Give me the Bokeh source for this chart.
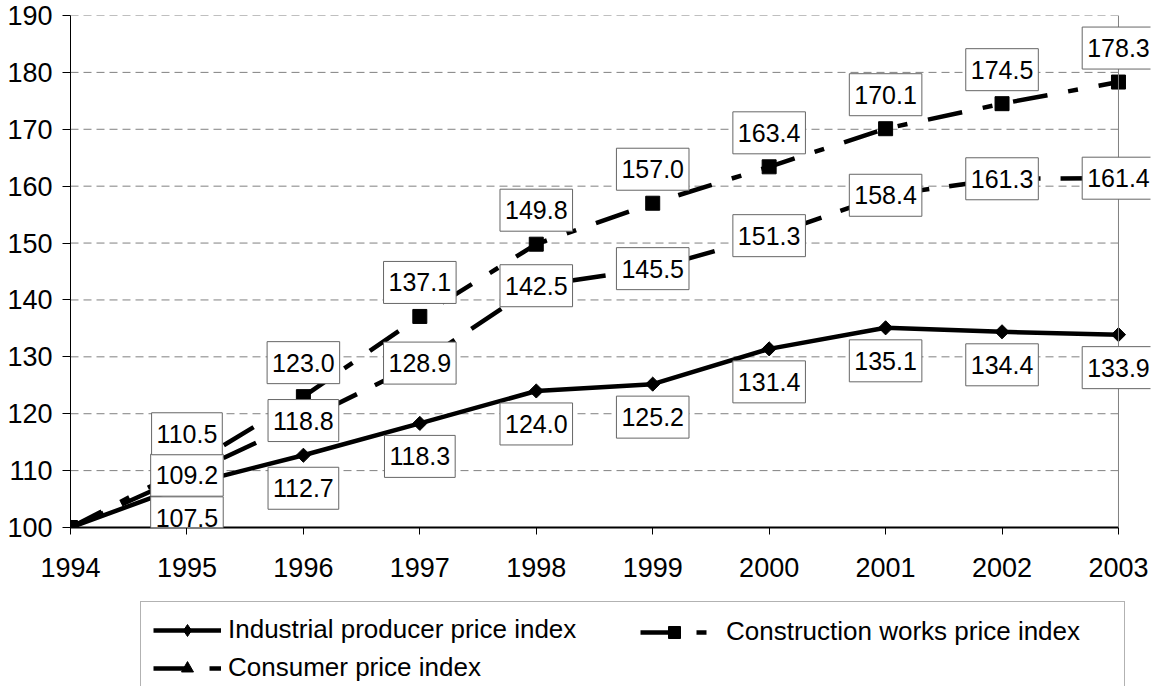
import numpy as np
from bokeh.plotting import figure
from bokeh.layouts import column
from bokeh.models import Label, Legend, LegendItem, Span, FixedTicker, Range1d
from bokeh.embed import file_html
from bokeh.resources import INLINE

# ---- data ----
years = [1994, 1995, 1996, 1997, 1998, 1999, 2000, 2001, 2002, 2003]
industrial = [100.0, 107.5, 112.7, 118.3, 124.0, 125.2, 131.4, 135.1, 134.4, 133.9]
construction = [100.0, 110.5, 123.0, 137.1, 149.8, 157.0, 163.4, 170.1, 174.5, 178.3]
consumer = [100.0, 109.2, 118.8, 128.9, 142.5, 145.5, 151.3, 158.4, 161.3, 161.4]
y_ticks = [100, 110, 120, 130, 140, 150, 160, 170, 180, 190]
series_names = ["Industrial producer price index",
                "Construction works price index",
                "Consumer price index"]

FONT = "Liberation Sans"
X_PAD = 0.275  # room to the right of the last year for the labels
LW = 4.5

p = figure(width=1152, height=600, output_backend="svg", toolbar_location=None,
           x_range=Range1d(years[0], years[-1] + X_PAD),
           y_range=Range1d(y_ticks[0], y_ticks[-1]),
           min_border_left=70, min_border_right=2,
           min_border_top=15, min_border_bottom=73)
p.outline_line_color = None
p.background_fill_color = "white"
p.border_fill_color = "white"
p.grid.visible = False

# axes
p.xaxis.ticker = FixedTicker(ticks=years)
p.yaxis.ticker = FixedTicker(ticks=y_ticks)
p.xaxis.bounds = (years[0], years[-1])
for ax in (p.xaxis, p.yaxis):
    ax.axis_line_color = "black"
    ax.major_tick_line_color = "black"
    ax.minor_tick_line_color = None
    ax.major_tick_in = 0
    ax.major_label_text_font = FONT
    ax.major_label_text_font_size = "27px"
    ax.major_label_text_color = "black"
p.xaxis.axis_line_width = 2
p.xaxis.major_tick_out = 7
p.xaxis.major_label_standoff = 23
p.yaxis.axis_line_width = 1
p.yaxis.major_tick_out = 8
p.yaxis.major_label_standoff = 10

# horizontal grid lines, limited to the plotted years
p.segment(x0=years[0], y0=y_ticks[1:], x1=years[-1], y1=y_ticks[1:],
          line_color="#808080", line_width=1, line_dash="8 5")
# right border line at last year
p.add_layout(Span(location=years[-1], dimension="height",
                  line_color="#808080", line_width=1))

# series
p.line(years, industrial, line_color="black", line_width=LW)
p.scatter(years, industrial, marker="square", angle=np.pi / 4, size=10, color="black")
p.line(years, consumer, line_color="black", line_width=LW, line_dash="36 20")
p.scatter(years, consumer, marker="triangle", size=14, color="black")
p.line(years, construction, line_color="black", line_width=LW, line_dash="35 21 10 21")
p.scatter(years, construction, marker="square", size=14, color="black")


def add_label(x, v, dy):
    lab = Label(x=x, y=v, text=f"{v:.1f}", y_offset=dy,
                text_align="center", text_baseline="middle",
                text_font=FONT, text_font_size="25px", text_color="black",
                background_fill_color="white", background_fill_alpha=1.0,
                border_line_color="#666666", border_line_width=1)
    try:
        lab.padding = (5, 12)
    except Exception:
        lab.padding = 8
    p.add_layout(lab)


for x, v in zip(years[1:], industrial[1:]):
    add_label(x, v, -33)
for x, v in zip(years[1:], consumer[1:]):
    add_label(x, v, 0)
for x, v in zip(years[1:], construction[1:]):
    add_label(x, v, 34)

# ---- legend strip below the chart (its frame is aligned with the chart's frame) ----
lg = figure(width=1152, height=86, output_backend="svg", toolbar_location=None,
            x_range=Range1d(0, 1), y_range=Range1d(0, 1),
            x_axis_type=None, y_axis_type=None,
            min_border_left=0, min_border_right=0, min_border_top=0, min_border_bottom=0)
lg.outline_line_color = None
lg.grid.visible = False
lg.background_fill_color = "white"
lg.border_fill_color = "white"

# same series (outside this strip's ranges, so only their legend glyphs show)
li_l = lg.line(years, industrial, line_color="black", line_width=LW)
li_m = lg.scatter(years, industrial, marker="diamond", size=16, color="black")
lc_l = lg.line(years, consumer, line_color="black", line_width=LW, line_dash="36 20")
lc_m = lg.scatter(years, consumer, marker="triangle", size=14, color="black")
lw_l = lg.line(years, construction, line_color="black", line_width=LW, line_dash="35 21 10 21")
lw_m = lg.scatter(years, construction, marker="square", size=14, color="black")

common = dict(orientation="vertical", padding=12, spacing=7, glyph_width=68,
              glyph_height=30, label_height=30,
              label_text_font=FONT, label_text_font_size="26px",
              label_text_color="black", margin=0)
leg_a = Legend(items=[LegendItem(label=series_names[0], renderers=[li_l, li_m]),
                      LegendItem(label=series_names[2], renderers=[lc_l, lc_m])],
               location=(70, -10), label_width=884, label_standoff=7,
               border_line_color="#666666", border_line_width=1,
               background_fill_color="white", background_fill_alpha=1.0, **common)
leg_b = Legend(items=[LegendItem(label=series_names[1], renderers=[lw_l, lw_m])],
               location=(570, 39), label_standoff=18,
               border_line_color=None, background_fill_alpha=0.0, **common)
lg.add_layout(leg_a)
lg.add_layout(leg_b)

layout = column(p, lg, spacing=0)
open("out.html", "w").write(file_html(layout, INLINE))
